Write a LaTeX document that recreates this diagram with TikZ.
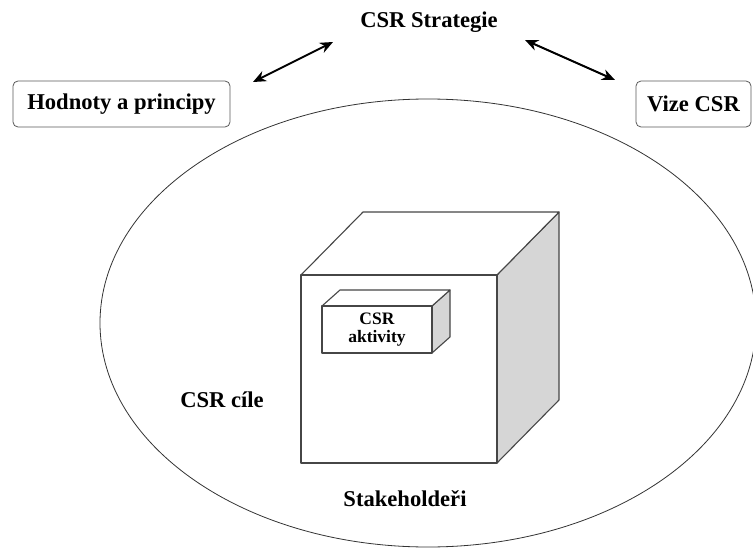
\documentclass[tikz,border=0pt]{standalone}
\usepackage{fontspec}
\setmainfont{Liberation Serif}
\usetikzlibrary{positioning,arrows.meta,calc}

\begin{document}
\begin{tikzpicture}[
    x=1pt, y=-1pt,
    every node/.style={font=\fontsize{22.6}{24}\selectfont\bfseries},
    title_box/.style={rectangle, rounded corners=5pt, draw=gray!70!black, line width=0.8pt, minimum height=46pt, inner sep=0pt},
    small_text/.style={font=\fontsize{17.5}{18}\selectfont\bfseries, align=center, inner sep=0pt},
    cube_line/.style={draw=gray!55!black, line width=1.1pt, line join=round},
    side_face/.style={cube_line, fill=gray!32},
    link/.style={{Stealth[length=13pt,width=11pt]}-{Stealth[length=13pt,width=11pt]}, line width=2pt}
]
\useasboundingbox (0,0) rectangle (753,551);

% Goals ellipse
\draw[gray!40!black, line width=0.8pt] (428,323) ellipse [x radius=328pt, y radius=224pt];

% Top row
\node[anchor=base] (strategie) at (429,28) {CSR Strategie};
\node[title_box, minimum width=217pt] (hodnoty) at (121.5,104) {Hodnoty a principy};
\node[title_box, minimum width=115pt] (vize) at (693.5,104) {Vize CSR};

% Arrows between them
\coordinate (hL) at (253,82);
\coordinate (sL) at (333,42);
\coordinate (sR) at (525,40);
\coordinate (vR) at (615,80);
\draw[link] (hL) -- (sL);
\draw[link] (sR) -- (vR);

% Big cube
\coordinate (f1) at (301,275);
\coordinate (f2) at (497,275);
\coordinate (f3) at (497,463);
\coordinate (f4) at (301,463);
\draw[side_face] (f2) -- ++(62,-63) -- ++(0,188) -- (f3) -- cycle;
\draw[cube_line, fill=white] (f1) -- ++(62,-63) -- ++(196,0) -- (f2) -- cycle;
\draw[cube_line, fill=white] (f1) rectangle (f3);

% Small box
\coordinate (a1) at (322,306);
\coordinate (a2) at (432,306);
\coordinate (a3) at (432,353);
\draw[side_face] (a2) -- ++(18,-16) -- ++(0,47) -- (a3) -- cycle;
\draw[cube_line, fill=white] (a1) -- ++(18,-16) -- ++(110,0) -- (a2) -- cycle;
\draw[cube_line, fill=white] (a1) rectangle (a3);
\node[small_text] (aktivity) at ($(a1)!0.5!(a3)$) {CSR\\aktivity};

% Labels
\node (cile) at (222,400) {CSR cíle};
\node (stake) at (405,499) {Stakeholdeři};

\end{tikzpicture}
\end{document}
